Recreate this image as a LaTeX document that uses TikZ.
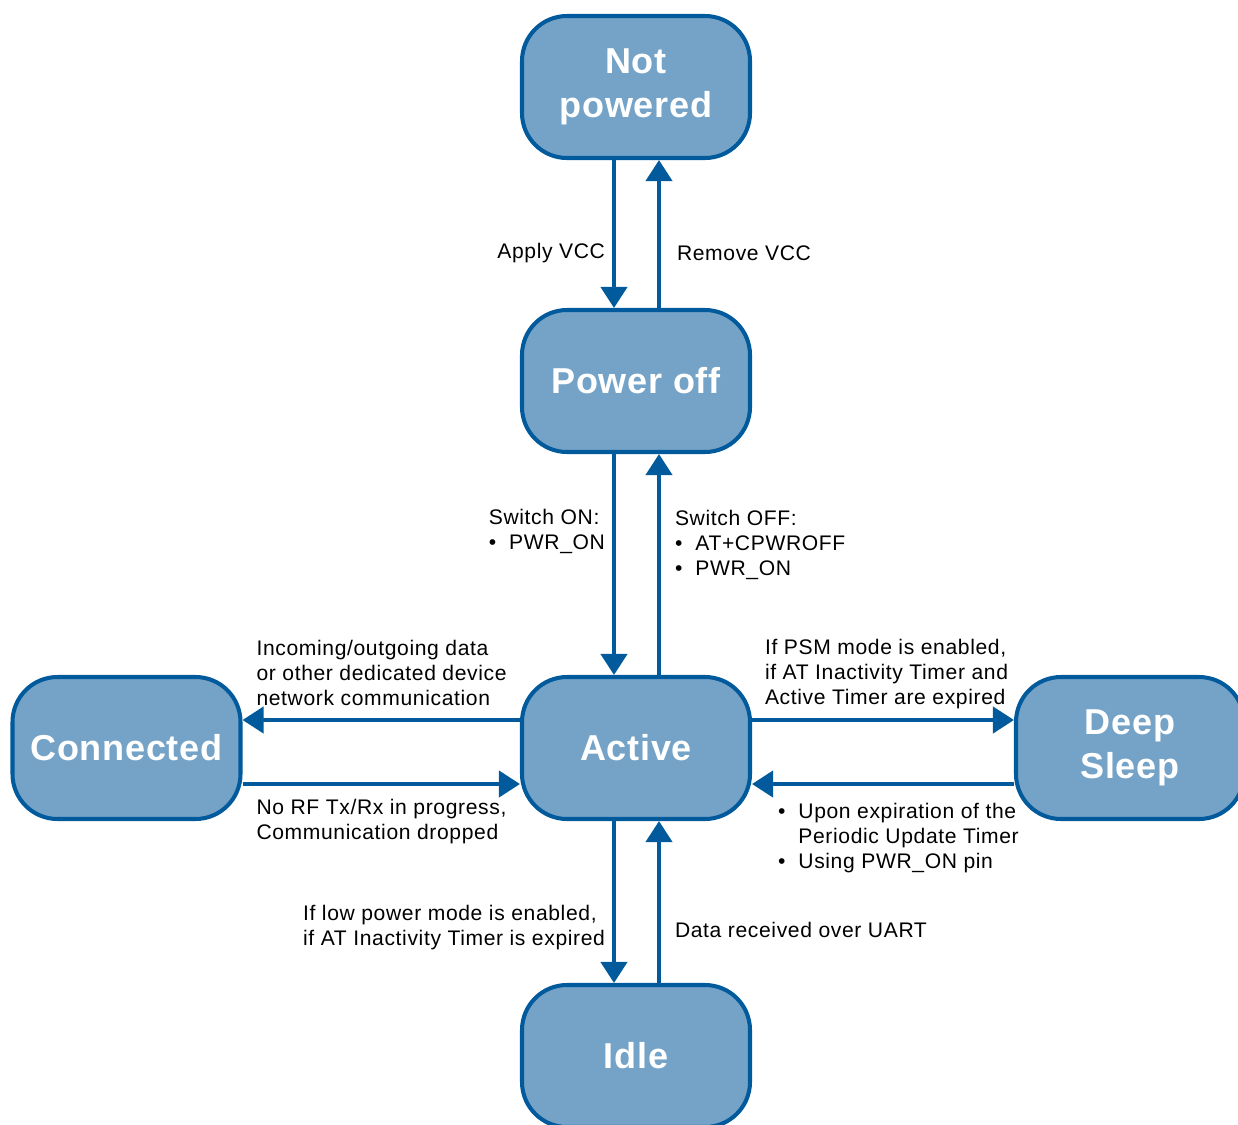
\documentclass[tikz,border=0pt]{standalone}
\usepackage{fontspec}
\setmainfont{Liberation Sans}
\newfontfamily\lblfont[LetterSpace=3]{Liberation Sans}
\newfontfamily\statefont[LetterSpace=2]{Liberation Sans}
\usepackage{tikz}
\usepackage{xcolor}
\usetikzlibrary{arrows.meta}
\usetikzlibrary{positioning}
\definecolor{stateline}{HTML}{005A9C}
\definecolor{statefill}{HTML}{74A3C7}
\tikzstyle{state} = [rectangle, rounded corners=0.9cm, draw=stateline, line width=2.3pt,
                     fill=statefill, text=white, font=\statefont\bfseries\fontsize{20.5}{25}\selectfont,
                     minimum width=4.56cm, minimum height=2.84cm, align=center]
\tikzstyle{trans} = [draw=stateline, line width=2.3pt, -{Triangle[length=0.42cm,width=0.52cm]}]
\tikzstyle{lbl} = [font=\lblfont\fontsize{12}{14.2}\selectfont, align=left, inner sep=0.14cm, text=black]

\begin{document}
\begin{tikzpicture}
    \useasboundingbox (0,0) rectangle (24.76,-22.48);
    \node[state] (notpow) at (12.72,-1.74) {Not\\powered};
    \node[state] (pwroff) [below of=notpow,node distance=5.88cm] {Power off};
    \node[state] (active) [below of=pwroff,node distance=7.34cm] {Active};
    \node[state] (idle) [below of=active,node distance=6.16cm] {Idle};
    \node[state] (connected) [left of=active,node distance=10.19cm] {Connected};
    \node[state] (deepsleep) [right of=active,node distance=9.88cm] {Deep\\Sleep};
    % vertical transitions
    \draw[trans] ([xshift=-0.44cm]notpow.south) -- node[lbl,anchor=east,pos=0.63] (applyvcc) {Apply VCC} ([xshift=-0.44cm]pwroff.north);
    \draw[trans] ([xshift=0.46cm]pwroff.north) -- node[lbl,anchor=west,pos=0.37,xshift=0.18cm] (removevcc) {Remove VCC} ([xshift=0.46cm]notpow.south);
    \draw[trans] ([xshift=-0.44cm]pwroff.south) -- node[lbl,anchor=east,pos=0.35] (switchon) {Switch ON:\\\textbullet\ \ PWR\_ON} ([xshift=-0.44cm]active.north);
    \draw[trans] ([xshift=0.46cm]active.north) -- node[lbl,anchor=west,pos=0.59,xshift=0.14cm] (switchoff) {Switch OFF:\\\textbullet\ \ AT+CPWROFF\\\textbullet\ \ PWR\_ON} ([xshift=0.46cm]pwroff.south);
    \draw[trans] ([xshift=-0.44cm]active.south) -- node[lbl,anchor=east,pos=0.66] (lowpower) {If low power mode is enabled,\\if AT Inactivity Timer is expired} ([xshift=-0.44cm]idle.north);
    \draw[trans] ([xshift=0.46cm]idle.north) -- node[lbl,anchor=west,pos=0.33,xshift=0.14cm] (uartdata) {Data received over UART} ([xshift=0.46cm]active.south);
    % horizontal transitions
    \draw[trans] ([yshift=0.56cm]active.west) -- node[lbl,anchor=south west,pos=1,xshift=0.1cm,yshift=0.1cm] (incoming) {Incoming/outgoing data\\or other dedicated device\\network communication} ([yshift=0.56cm]connected.east);
    \draw[trans] ([yshift=-0.72cm]connected.east) -- node[lbl,anchor=north west,pos=0,xshift=0.1cm,yshift=-0.12cm] (norf) {No RF Tx/Rx in progress,\\Communication dropped} ([yshift=-0.72cm]active.west);
    \draw[trans] ([yshift=0.56cm]active.east) -- node[lbl,anchor=south west,pos=0,xshift=0.08cm,yshift=0.04cm] (psm) {If PSM mode is enabled,\\if AT Inactivity Timer and\\Active Timer are expired} ([yshift=0.56cm]deepsleep.west);
    \draw[trans] ([yshift=-0.72cm]deepsleep.west) -- node[lbl,anchor=north west,pos=1,xshift=0.34cm,yshift=-0.2cm] (wakeup) {\textbullet\ \ Upon expiration of the\\\hphantom{\textbullet\ \ }Periodic Update Timer\\\textbullet\ \ Using PWR\_ON pin} ([yshift=-0.72cm]active.east);
\end{tikzpicture}
\end{document}
